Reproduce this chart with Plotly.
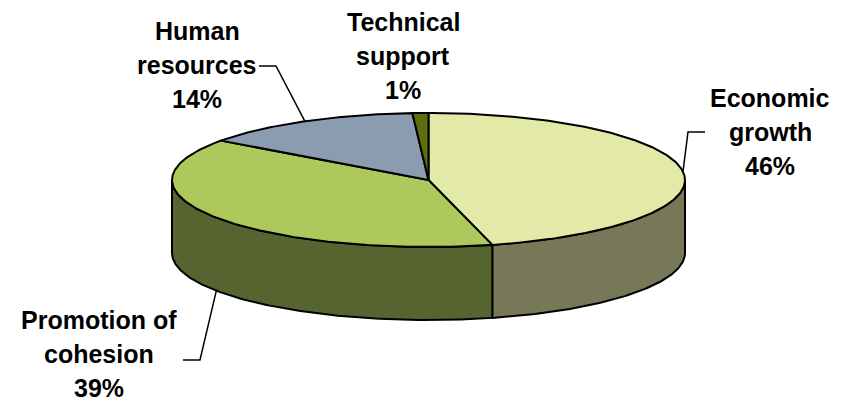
import numpy as np
import plotly.graph_objects as go

# Budget share by priority
categories = ["Economic growth", "Promotion of cohesion", "Human resources", "Technical support"]
shares = [46, 39, 14, 1]

top_colors = ["#E3E9A6", "#ADC95B", "#8C9CB0", "#5E6E0C"]
side_colors = ["#777858", "#56652F", "#4E5A68", "#3A4508"]

# Pie geometry in page pixels (axes map 1:1 to pixels)
W, H = 845, 403
CX, CY = 428.5, 180.0
RX, RY = 256.5, 67.0
DEPTH = 73.0


def pt(theta_deg, drop=0.0):
    """Point on the rim; theta measured clockwise from 12 o'clock."""
    t = np.radians(theta_deg)
    return CX + RX * np.sin(t), CY - RY * np.cos(t) + drop


total = float(sum(shares))
bounds = np.concatenate([[0.0], np.cumsum(shares) / total * 360.0])

fig = go.Figure()

# Side walls: only the front half of the rim (90..270 degrees) is visible
for i, name in enumerate(categories):
    a0, a1 = max(bounds[i], 90.0), min(bounds[i + 1], 270.0)
    if a1 <= a0:
        continue
    th = np.linspace(a0, a1, 120)
    xt, yt = pt(th)
    xb, yb = pt(th[::-1], DEPTH)
    xs = np.concatenate([xt, xb, [xt[0]]])
    ys = np.concatenate([yt, yb, [yt[0]]])
    fig.add_trace(go.Scatter(x=xs, y=ys, mode="lines", fill="toself",
                             fillcolor=side_colors[i],
                             line=dict(color="black", width=2),
                             hoverinfo="skip", showlegend=False))

# Top faces
for i, name in enumerate(categories):
    th = np.linspace(bounds[i], bounds[i + 1], 200)
    xt, yt = pt(th)
    xs = np.concatenate([[CX], xt, [CX]])
    ys = np.concatenate([[CY], yt, [CY]])
    fig.add_trace(go.Scatter(x=xs, y=ys, mode="lines", fill="toself",
                             fillcolor=top_colors[i],
                             line=dict(color="black", width=2),
                             name=name, hoverinfo="name", showlegend=False))

# Labels: centre x, first line y, and optional leader elbow (start, bend)
label_layout = {
    "Economic growth": dict(x=770, y=98, lines=["Economic", "growth"],
                             leader=((705, 132), (688, 132)), drop=0.0),
    "Promotion of cohesion": dict(x=99, y=320, lines=["Promotion of", "cohesion"],
                                   leader=((183, 360), (200, 360)), drop=DEPTH),
    "Human resources": dict(x=197, y=31, lines=["Human", "resources"],
                             leader=((259, 66), (276, 66)), drop=0.0),
    "Technical support": dict(x=403, y=22, lines=["Technical", "support"],
                               leader=None, drop=0.0),
}

LINE_GAP = 34.0
font = dict(family="Liberation Sans, Arial, sans-serif", size=25, color="black")

for i, name in enumerate(categories):
    spec = label_layout[name]
    texts = spec["lines"] + [f"{shares[i]}%"]
    for k, t in enumerate(texts):
        fig.add_annotation(x=spec["x"], y=spec["y"] + k * LINE_GAP, text=f"<b>{t}</b>",
                           showarrow=False, xanchor="center", yanchor="middle",
                           font=font)
    if spec["leader"] is not None:
        mid = (bounds[i] + bounds[i + 1]) / 2.0
        ax, ay = pt(mid, spec["drop"])
        (sx, sy), (bx, by) = spec["leader"]
        fig.add_trace(go.Scatter(x=[sx, bx, ax], y=[sy, by, ay], mode="lines",
                                 line=dict(color="black", width=1.5),
                                 hoverinfo="skip", showlegend=False))

fig.update_layout(
    width=W, height=H,
    margin=dict(l=0, r=0, t=0, b=0),
    paper_bgcolor="white", plot_bgcolor="white",
    xaxis=dict(range=[0, W], visible=False, fixedrange=True),
    yaxis=dict(range=[H, 0], visible=False, fixedrange=True),
)

fig.write_html("out.html")
